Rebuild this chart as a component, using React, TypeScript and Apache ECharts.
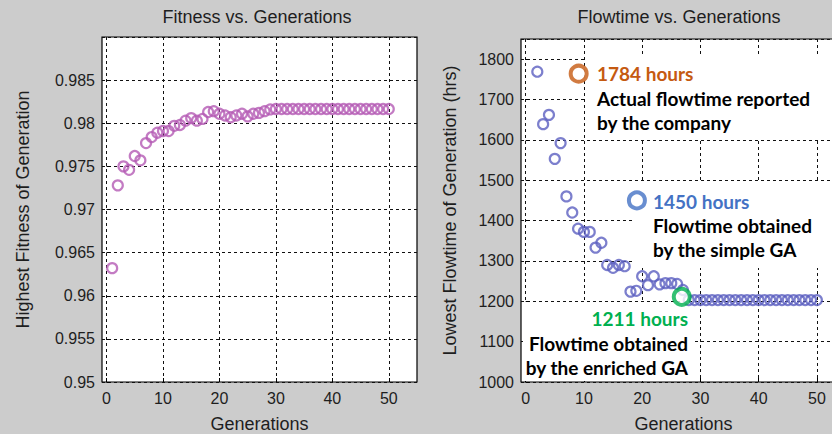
import React, { useEffect, useRef } from "react";
import * as echarts from "echarts";

const fitnessGenerations = [
  1, 2, 3, 4, 5, 6, 7, 8, 9, 10, 11, 12, 13, 14, 15, 16, 17, 18, 19, 20, 21, 22, 23, 24, 25,
  26, 27, 28, 29, 30, 31, 32, 33, 34, 35, 36, 37, 38, 39, 40, 41, 42, 43, 44, 45, 46, 47, 48, 49, 50,
];
const fitnessValues = [
  0.9632, 0.9728, 0.975, 0.9746, 0.9762, 0.9757, 0.9777, 0.9784, 0.9789, 0.9791,
  0.9791, 0.9797, 0.9798, 0.9803, 0.9806, 0.9803, 0.9805, 0.9813, 0.9814, 0.9811,
  0.9809, 0.9807, 0.9809, 0.9811, 0.9808, 0.9811, 0.9812, 0.9814, 0.9816, 0.98165,
  0.98165, 0.98165, 0.98165, 0.98165, 0.98165, 0.98165, 0.98165, 0.98165, 0.98165, 0.98165,
  0.98165, 0.98165, 0.98165, 0.98165, 0.98165, 0.98165, 0.98165, 0.98165, 0.98165, 0.98165,
];
const flowGenerations = [
  2, 3, 4, 5, 6, 7, 8, 9, 10, 11, 12, 13, 14, 15, 16, 17, 18, 19, 20, 21, 22, 23, 24, 25,
  26, 27, 28, 29, 30, 31, 32, 33, 34, 35, 36, 37, 38, 39, 40, 41, 42, 43, 44, 45, 46, 47, 48, 49, 50,
];
const flowValues = [
  1769, 1639, 1662, 1553, 1592, 1460, 1420, 1380, 1372, 1372, 1333, 1345, 1290, 1283, 1290,
  1287, 1224, 1226, 1262, 1240, 1262, 1242, 1245, 1245, 1243, 1228, 1203, 1203, 1203, 1203,
  1203, 1203, 1203, 1203, 1203, 1203, 1203, 1203, 1203, 1203, 1203, 1203, 1203, 1203, 1203,
  1203, 1203, 1203, 1203,
];
const xTicks = [0, 10, 20, 30, 40, 50];

const annotationGens = [9.1, 19.1, 26.8];
const annotationValues = [1764, 1450, 1211];
const annotationColors = ["#c55a11", "#4472c4", "#00b050"];

const AXIS_FONT = "'Liberation Sans', Arial, sans-serif";
const NOTE_FONT = "Lato, 'Open Sans', sans-serif";
const NOTE_SIZE = 19;
const NAME_SIZE = 18;
const TEXT_COLOR = "#1e1e1e";

const gridLine = { show: true, lineStyle: { color: "#111", type: [3, 3], width: 1 } };

function xAxis(gridIndex: number) {
  return {
    type: "value",
    gridIndex,
    min: -0.8,
    max: 55,
    axisLine: { show: false },
    axisTick: { show: true, inside: true, length: 4, customValues: xTicks, lineStyle: { color: "#000" } },
    axisLabel: {
      customValues: xTicks,
      margin: 8,
      fontSize: 16,
      color: TEXT_COLOR,
      fontFamily: AXIS_FONT,
    },
    splitLine: gridLine,
    name: "Generations",
    nameLocation: "middle",
    nameGap: 33,
    nameTextStyle: { fontSize: NAME_SIZE, color: TEXT_COLOR, fontFamily: AXIS_FONT },
  };
}

function note(x: number, y: number, text: string, fill: string, align = "left") {
  return {
    type: "text",
    x,
    y,
    z: 10,
    style: { text, fontSize: NOTE_SIZE, fontWeight: "bold", fontFamily: NOTE_FONT, fill, align, verticalAlign: "middle" },
  };
}

export default function App() {
  const ref = useRef<HTMLDivElement>(null);
  useEffect(() => {
    document.body.style.margin = "0";
    const chart = echarts.init(ref.current!, undefined, { renderer: "svg" });
    const option: any = {
      animation: false,
      backgroundColor: "#cccccc",
      grid: [
        { left: 102, top: 37, width: 315, height: 345, show: true, outerBoundsMode: "none", containLabel: false, backgroundColor: "#fff", borderColor: "#000", borderWidth: 1.2 },
        { left: 521, top: 39, width: 325, height: 343, show: true, outerBoundsMode: "none", containLabel: false, backgroundColor: "#fff", borderColor: "#000", borderWidth: 1.2 },
      ],
      xAxis: [xAxis(0), xAxis(1)],
      yAxis: [
        {
          type: "value",
          gridIndex: 0,
          min: 0.95,
          max: 0.99,
          interval: 0.005,
          axisLine: { show: false },
          axisTick: { show: true, inside: true, length: 4, lineStyle: { color: "#000" } },
          axisLabel: {
            showMaxLabel: false,
            margin: 7,
            fontSize: 16,
            color: TEXT_COLOR,
            fontFamily: AXIS_FONT,
            formatter: (v: number) => String(+v.toFixed(3)),
          },
          splitLine: gridLine,
          name: "Highest Fitness of Generation",
          nameLocation: "middle",
          nameGap: 70,
          nameTextStyle: { fontSize: NAME_SIZE, color: TEXT_COLOR, fontFamily: AXIS_FONT },
        },
        {
          type: "value",
          gridIndex: 1,
          min: 1000,
          max: 1850,
          interval: 100,
          axisLine: { show: false },
          axisTick: { show: true, inside: true, length: 4, lineStyle: { color: "#000" } },
          axisLabel: {
            showMaxLabel: false,
            margin: 7,
            fontSize: 16,
            color: TEXT_COLOR,
            fontFamily: AXIS_FONT,
            formatter: (v: number) => String(v),
          },
          splitLine: gridLine,
          name: "Lowest Flowtime of Generation (hrs)",
          nameLocation: "middle",
          nameGap: 62,
          nameTextStyle: { fontSize: NAME_SIZE, color: TEXT_COLOR, fontFamily: AXIS_FONT },
        },
      ],
      series: [
        {
          type: "scatter",
          xAxisIndex: 0,
          yAxisIndex: 0,
          z: 5,
          symbol: "circle",
          symbolSize: 10,
          itemStyle: { color: "transparent", borderColor: "#b45ab4", borderWidth: 2.2 },
          data: fitnessGenerations.map((g, i) => [g, fitnessValues[i]]),
        },
        {
          type: "scatter",
          xAxisIndex: 1,
          yAxisIndex: 1,
          z: 5,
          symbol: "circle",
          symbolSize: 10,
          itemStyle: { color: "transparent", borderColor: "#5b5fc0", borderWidth: 2.2 },
          data: flowGenerations.map((g, i) => [g, flowValues[i]]),
        },
        {
          type: "scatter",
          xAxisIndex: 1,
          yAxisIndex: 1,
          z: 6,
          symbol: "circle",
          symbolSize: 16,
          data: annotationGens.map((g, i) => ({
            value: [g, annotationValues[i]],
            itemStyle: { color: "#fff", borderColor: annotationColors[i], borderWidth: 4 },
          })),
        },
      ],
      graphic: [
        { type: "text", x: 257, y: 17, z: 10, style: { text: "Fitness vs. Generations", fontSize: NAME_SIZE, fontFamily: AXIS_FONT, fill: TEXT_COLOR, align: "center", verticalAlign: "middle" } },
        { type: "text", x: 679, y: 17, z: 10, style: { text: "Flowtime vs. Generations", fontSize: NAME_SIZE, fontFamily: AXIS_FONT, fill: TEXT_COLOR, align: "center", verticalAlign: "middle" } },
        { type: "rect", z: 1, shape: { x: 585, y: 57, width: 247, height: 83 }, style: { fill: "#fff" } },
        { type: "rect", z: 1, shape: { x: 633, y: 182, width: 199, height: 86 }, style: { fill: "#fff" } },
        { type: "rect", z: 1, shape: { x: 523, y: 303, width: 170, height: 78 }, style: { fill: "#fff" } },
        note(597, 73, "1784 hours", annotationColors[0]),
        note(597, 98, "Actual flowtime reported", "#000"),
        note(597, 122, "by the company", "#000"),
        note(653, 201, "1450 hours", annotationColors[1]),
        note(653, 225, "Flowtime obtained", "#000"),
        note(653, 249, "by the simple GA", "#000"),
        note(688, 318, "1211 hours", annotationColors[2], "right"),
        note(688, 343, "Flowtime obtained", "#000", "right"),
        note(688, 367, "by the enriched GA", "#000", "right"),
      ],
    };
    chart.setOption(option);
    return () => chart.dispose();
  }, []);
  return <div ref={ref} style={{ width: 832, height: 434, background: "#cccccc" }} />;
}
